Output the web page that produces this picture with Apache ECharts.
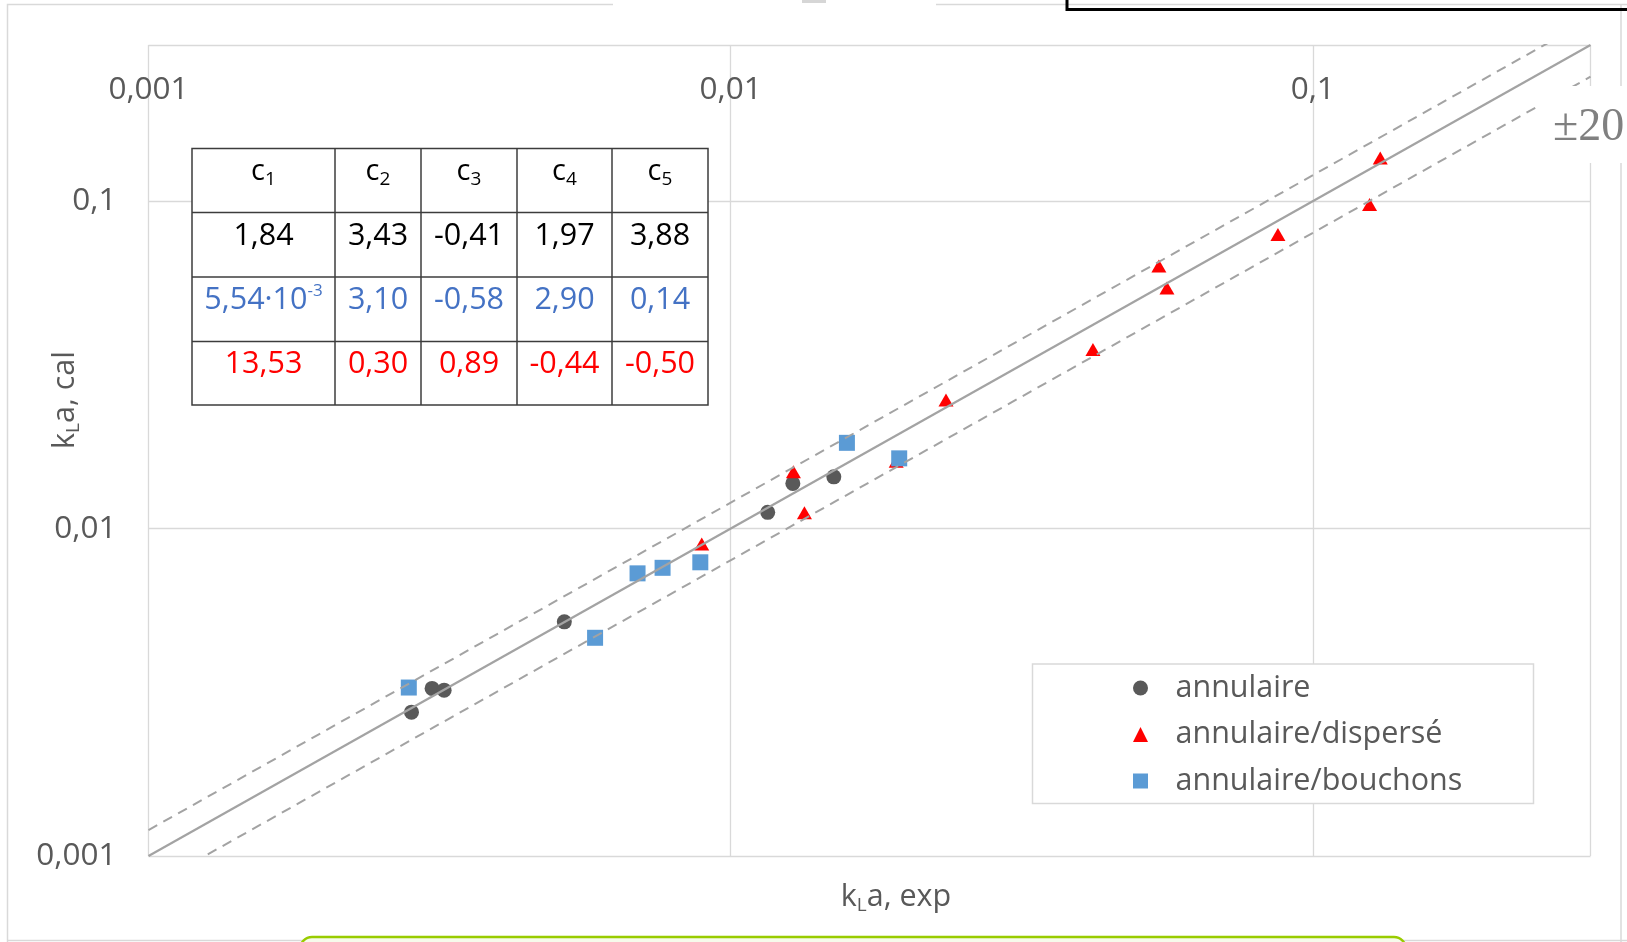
<!DOCTYPE html>
<html><head><meta charset="utf-8">
<script src="https://cdn.jsdelivr.net/npm/echarts@6/dist/echarts.min.js"></script>
<style>html,body{margin:0;padding:0;background:#fff}#chart{width:1627px;height:942px}</style>
</head><body><div id="chart"></div>
<script>
// ---------------- data ----------------
const seriesNames = ['annulaire', 'annulaire/dispersé', 'annulaire/bouchons'];
const annulaireX = [0.00283, 0.00307, 0.00322, 0.00518, 0.01158, 0.01279, 0.01504];
const annulaireY = [0.00275, 0.00325, 0.00321, 0.00519, 0.01121, 0.01374, 0.01439];
const disperseX = [0.00892, 0.01282, 0.01339, 0.01925, 0.02344, 0.04192, 0.05441, 0.05617, 0.08713, 0.1252, 0.1306];
const disperseY = [0.00897, 0.01491, 0.01117, 0.01607, 0.02469, 0.03525, 0.06345, 0.05436, 0.07913, 0.0977, 0.1356];
const bouchonsX = [0.00280, 0.00585, 0.00692, 0.00764, 0.00887, 0.01584, 0.01948];
const bouchonsY = [0.00327, 0.00464, 0.00730, 0.00759, 0.00789, 0.01828, 0.01639];
const tickValues = [0.001, 0.01, 0.1];
const tickLabels = ['0,001', '0,01', '0,1'];
const refLineX = [0.001, 0.3];
const bandFactors = [1, 1.2, 0.8];
const bandLabel = '±20';
const tableHeaderSub = ['1', '2', '3', '4', '5'];
const tableRow1 = ['1,84', '3,43', '-0,41', '1,97', '3,88'];
const tableRow2 = ['5,54·10^-3', '3,10', '-0,58', '2,90', '0,14'];
const tableRow3 = ['13,53', '0,30', '0,89', '-0,44', '-0,50'];
const xAxisTitle = ['k', 'L', 'a, exp'];
const yAxisTitle = ['k', 'L', 'a, cal'];

// ---------------- styles / layout ----------------
const FONT = 'Open Sans';
const GRID = {left: 148.5, top: 45, width: 1442, height: 811};
const rowColors = ['#000000', '#4472c4', '#ff0000'];
const colEdges = [192, 335, 421, 517, 612, 708];
const rowEdges = [148.5, 212.5, 277, 341.5, 405];
const cellTextLift = 8.5;

function tickLabel(v) {
  for (let i = 0; i < tickValues.length; i++) {
    if (Math.abs(Math.log10(v) - Math.log10(tickValues[i])) < 1e-6) return tickLabels[i];
  }
  return '';
}
function zip(xs, ys) { return xs.map((x, i) => [x, ys[i]]); }

const chart = echarts.init(document.getElementById('chart'));

const graphics = [];
// outer frame pieces
const frameStyle = {stroke: '#d9d9d9', lineWidth: 1.5, fill: null};
graphics.push({type: 'polyline', shape: {points: [[613, 4.5], [7.5, 4.5], [7.5, 942]]}, style: frameStyle, z: -10});
graphics.push({type: 'line', shape: {x1: 936, y1: 4.5, x2: 1627, y2: 4.5}, style: frameStyle, z: -10});
graphics.push({type: 'line', shape: {x1: 1621, y1: 4.5, x2: 1621, y2: 942}, style: frameStyle, z: -10});
graphics.push({type: 'line', shape: {x1: 7.5, y1: 940.5, x2: 1627, y2: 940.5}, style: frameStyle, z: -10});
graphics.push({type: 'rect', shape: {x: 802, y: 0, width: 24, height: 3}, style: {fill: '#d6d6d6'}, z: -10});
graphics.push({type: 'polyline', shape: {points: [[1067, 0], [1067, 9.5], [1627, 9.5]]}, style: {stroke: '#000', lineWidth: 3, fill: null}, z: 10});
// green box at bottom
graphics.push({type: 'rect', shape: {x: 300, y: 937, width: 1106, height: 40, r: 12}, style: {fill: '#f6fbeb', stroke: '#99cc00', lineWidth: 2.5}, z: 10});
// ±20 label
graphics.push({type: 'rect', shape: {x: 1537, y: 86, width: 90, height: 77}, style: {fill: '#fff'}, z: 100});
graphics.push({type: 'text', x: 1553, y: 128, style: {text: bandLabel, font: '46px "Liberation Serif"', fill: '#808080', align: 'left', verticalAlign: 'middle'}, z: 101});
// legend box
graphics.push({type: 'rect', shape: {x: 1032.5, y: 664, width: 501, height: 139.5}, style: {fill: '#fff', stroke: '#d9d9d9', lineWidth: 1.5}, z: 3});
// axis titles
function titleText(parts) { return '{a|' + parts[0] + '}{s|' + parts[1] + '}{a|' + parts[2] + '}'; }
const titleRich = {
  a: {fontSize: 30.5, fontFamily: FONT, fill: '#595959', lineHeight: 36},
  s: {fontSize: 19, fontFamily: FONT, fill: '#595959', lineHeight: 23, verticalAlign: 'bottom'}
};
graphics.push({type: 'text', x: 896, y: 897, style: {text: titleText(xAxisTitle), rich: titleRich, align: 'center', verticalAlign: 'middle'}, z: 20});
graphics.push({type: 'text', x: 65, y: 400, rotation: Math.PI / 2, style: {text: titleText(yAxisTitle), rich: titleRich, align: 'center', verticalAlign: 'middle'}, z: 20});

// coefficient table
const tW = colEdges[colEdges.length - 1] - colEdges[0];
const tH = rowEdges[rowEdges.length - 1] - rowEdges[0];
graphics.push({type: 'rect', shape: {x: colEdges[0], y: rowEdges[0], width: tW, height: tH}, style: {fill: '#fff', stroke: '#3c3c3c', lineWidth: 1.5}, z: 100});
for (let i = 1; i < colEdges.length - 1; i++) {
  graphics.push({type: 'line', shape: {x1: colEdges[i], y1: rowEdges[0], x2: colEdges[i], y2: rowEdges[rowEdges.length - 1]}, style: {stroke: '#3c3c3c', lineWidth: 1.5}, z: 101});
}
for (let j = 1; j < rowEdges.length - 1; j++) {
  graphics.push({type: 'line', shape: {x1: colEdges[0], y1: rowEdges[j], x2: colEdges[colEdges.length - 1], y2: rowEdges[j]}, style: {stroke: '#3c3c3c', lineWidth: 1.5}, z: 101});
}
const cellRich = {
  c: {fontSize: 29, fontFamily: FONT, fill: '#000', lineHeight: 34},
  cs: {fontSize: 19, fontFamily: FONT, fill: '#000', lineHeight: 22, verticalAlign: 'bottom'}
};
tableHeaderSub.forEach((s, i) => {
  const cx = (colEdges[i] + colEdges[i + 1]) / 2, cy = (rowEdges[0] + rowEdges[1]) / 2 - cellTextLift;
  graphics.push({type: 'text', x: cx, y: cy, style: {text: '{c|c}{cs|' + s + '}', rich: cellRich, align: 'center', verticalAlign: 'middle'}, z: 102});
});
[tableRow1, tableRow2, tableRow3].forEach((row, r) => {
  const cy = (rowEdges[r + 1] + rowEdges[r + 2]) / 2 - cellTextLift;
  const rich = {
    v: {fontSize: 30.5, fontFamily: FONT, fill: rowColors[r], lineHeight: 36},
    sup: {fontSize: 17, fontFamily: FONT, fill: rowColors[r], lineHeight: 19, verticalAlign: 'top'}
  };
  row.forEach((val, i) => {
    const cx = (colEdges[i] + colEdges[i + 1]) / 2;
    let txt;
    if (val.indexOf('^') >= 0) {
      const p = val.split('^');
      txt = '{v|' + p[0] + '}{sup|' + p[1] + '}';
    } else txt = '{v|' + val + '}';
    graphics.push({type: 'text', x: cx, y: cy, style: {text: txt, rich: rich, align: 'center', verticalAlign: 'middle'}, z: 102});
  });
});

const refColor = '#a3a3a3';
const option = {
  animation: false,
  backgroundColor: '#fff',
  grid: {left: GRID.left, top: GRID.top, width: GRID.width, height: GRID.height},
  xAxis: {
    type: 'log', logBase: 10, min: 0.001, max: 0.3, position: 'top',
    axisLine: {show: false}, axisTick: {show: false},
    splitLine: {show: true, lineStyle: {color: '#d9d9d9', width: 1.3}},
    axisLabel: {inside: true, margin: 29, formatter: tickLabel, color: '#595959', fontSize: 31.5, fontFamily: FONT}
  },
  yAxis: {
    type: 'log', logBase: 10, min: 0.001, max: 0.3,
    axisLine: {show: false}, axisTick: {show: false},
    splitLine: {show: true, lineStyle: {color: '#d9d9d9', width: 1.3}},
    axisLabel: {margin: 32, formatter: tickLabel, color: '#595959', fontSize: 31.5, fontFamily: FONT, lineHeight: 40, padding: [10, 0, 0, 0]}
  },
  legend: {
    orient: 'vertical', left: 1128, top: 667, itemWidth: 15, itemHeight: 15, itemGap: 14.5,
    selectedMode: false,
    formatter: function (n) { return '{g| }{t|' + n + '}'; },
    textStyle: {
      fontSize: 30.5, fontFamily: FONT, color: '#595959', lineHeight: 32,
      rich: {g: {width: 22.5, fontSize: 30.5, lineHeight: 32}, t: {fontSize: 30.5, fontFamily: FONT, color: '#595959', lineHeight: 32}}
    },
    data: [{name: seriesNames[0], icon: 'circle'}, {name: seriesNames[1], icon: 'triangle'}, {name: seriesNames[2], icon: 'rect'}]
  },
  graphic: graphics,
  series: [
    {type: 'line', name: 'ref', data: refLineX.map(x => [x, x * bandFactors[0]]), showSymbol: false, silent: true, clip: true,
     lineStyle: {color: refColor, width: 2.2}},
    {type: 'line', name: 'ref+', data: refLineX.map(x => [x, x * bandFactors[1]]), showSymbol: false, silent: true, clip: true,
     lineStyle: {color: refColor, width: 2, type: [10, 7]}},
    {type: 'line', name: 'ref-', data: refLineX.map(x => [x, x * bandFactors[2]]), showSymbol: false, silent: true, clip: true,
     lineStyle: {color: refColor, width: 2, type: [10, 7]}},
    {type: 'scatter', name: seriesNames[0], data: zip(annulaireX, annulaireY), symbol: 'circle', symbolSize: 15,
     itemStyle: {color: '#595959', opacity: 1}},
    {type: 'scatter', name: seriesNames[1], data: zip(disperseX, disperseY), symbol: 'triangle', symbolSize: [15, 13],
     itemStyle: {color: '#ff0000', opacity: 1}},
    {type: 'scatter', name: seriesNames[2], data: zip(bouchonsX, bouchonsY), symbol: 'rect', symbolSize: 16,
     itemStyle: {color: '#5b9bd5', opacity: 1}}
  ]
};
chart.setOption(option);
</script>
</body></html>
